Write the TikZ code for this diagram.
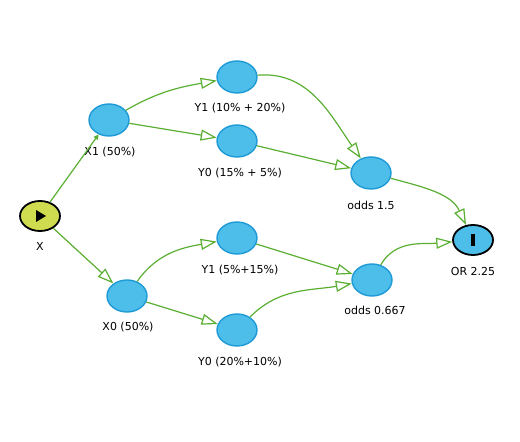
\documentclass[tikz,border=0pt]{standalone}
\usepackage{fontspec}
\setmainfont{DejaVu Sans}
\usetikzlibrary{arrows.meta,shapes.geometric}
\definecolor{nodeblue}{HTML}{4DBDEA}
\definecolor{nodeborder}{HTML}{1E9AD6}
\definecolor{edgegreen}{HTML}{5AAE32}
\definecolor{startfill}{HTML}{CFDC50}
\tikzset{
  chance/.style={ellipse, draw=nodeborder, fill=nodeblue, line width=1.4bp, minimum width=40bp, minimum height=32bp, inner sep=0pt},
  startnode/.style={ellipse, draw=black, fill=startfill, line width=1.8bp, minimum width=40bp, minimum height=30bp, inner sep=0pt},
  endnode/.style={ellipse, draw=black, fill=nodeblue, line width=1.8bp, minimum width=40bp, minimum height=30bp, inner sep=0pt},
  lbl/.style={font=\fontsize{11bp}{13bp}\selectfont, inner sep=0pt},
  edge/.style={draw=edgegreen, line width=1.2bp, -{Triangle[fill=white, length=16bp, width=11bp]}},
  smalledge/.style={draw=edgegreen, line width=1.2bp, -{Triangle[length=5bp, width=5bp]}},
}
\begin{document}
\begin{tikzpicture}[x=1bp, y=-1bp]
\useasboundingbox (0,0) rectangle (520,442);
% nodes
\node[startnode] (X) at (40,216) {};
\fill (36,210) -- (36,222) -- (46,216) -- cycle;
\node[chance] (X1) at (109,120) {};
\node[chance] (Y1a) at (237,77) {};
\node[chance] (Y0a) at (237,141) {};
\node[chance] (O1) at (371,173) {};
\node[endnode] (OR) at (473,240) {};
\fill (471,234) rectangle (475,246);
\node[chance] (X0) at (127,296) {};
\node[chance] (Y1b) at (237,238) {};
\node[chance] (Y0b) at (237,330) {};
\node[chance] (O2) at (372,280) {};
% labels
\node[lbl] (lX) at (40,246) {X};
\node[lbl] (lX1) at (110,152) {X1 (50\%)};
\node[lbl] (lY1a) at (240,108) {Y1 (10\% + 20\%)};
\node[lbl] (lY0a) at (240,173) {Y0 (15\% + 5\%)};
\node[lbl] (lO1) at (371,205) {odds 1.5};
\node[lbl] (lOR) at (473,271) {OR 2.25};
\node[lbl] (lX0) at (128,327) {X0 (50\%)};
\node[lbl] (lY1b) at (240,270) {Y1 (5\%+15\%)};
\node[lbl] (lY0b) at (240,362) {Y0 (20\%+10\%)};
\node[lbl] (lO2) at (375,310) {odds 0.667};
% edges
\draw[smalledge] (X) -- (X1);
\draw[edge] (X) -- (X0);
\draw[edge] (X1) to[out=30, in=190] (Y1a);
\draw[edge] (X1) -- (Y0a);
\draw[edge] (Y1a) to[out=5, in=125] (O1);
\draw[edge] (Y0a) -- (O1);
\draw[edge] (O1) to[out=-15, in=115] (OR);
\draw[edge] (X0) to[out=55, in=190] (Y1b);
\draw[edge] (X0) -- (Y0b);
\draw[edge] (Y1b) -- (O2);
\draw[edge] (Y0b) to[out=45, in=190] (O2);
\draw[edge] (O2) to[out=60, in=185] (OR);
\end{tikzpicture}
\end{document}
